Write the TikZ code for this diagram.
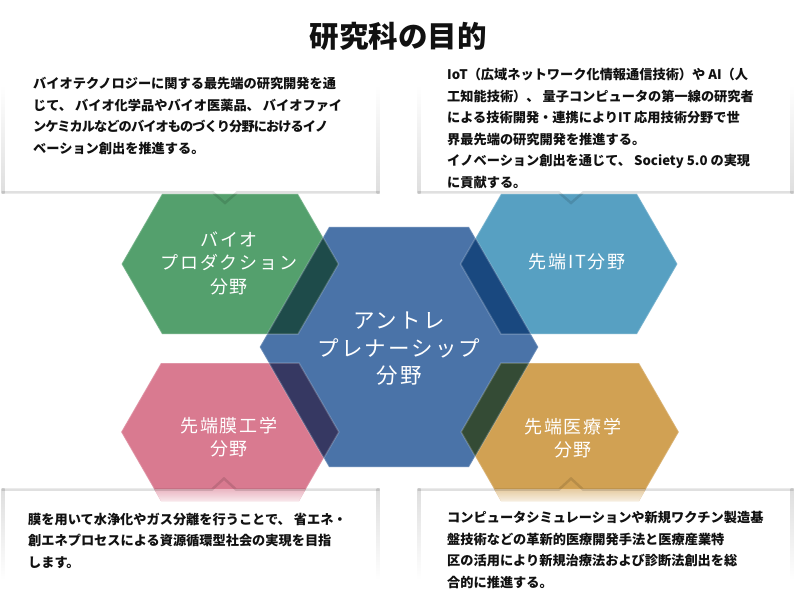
\documentclass[tikz,border=0pt]{standalone}
\usepackage{fontspec}
\newfontfamily\jp{Noto Sans CJK JP}
\newfontfamily\jplab{Noto Sans CJK JP}[LetterSpace=10]
\definecolor{cgreen}{HTML}{54A06D}
\definecolor{ccenter}{HTML}{4A73A8}
\definecolor{cit}{HTML}{57A0C2}
\definecolor{cpink}{HTML}{D97A90}
\definecolor{cgold}{HTML}{D1A153}
\definecolor{ogreen}{HTML}{1E4B4A}
\definecolor{opink}{HTML}{363862}
\definecolor{oit}{HTML}{19487F}
\definecolor{ogold}{HTML}{344B35}
\definecolor{bordgray}{HTML}{DEDEDE}
\definecolor{txt}{HTML}{111111}
\newcommand\hexpath[4]{({#1-#3-0.57735*#4},{#2}) -- ({#1-#3},{#2-#4}) -- ({#1+#3},{#2-#4}) -- ({#1+#3+0.57735*#4},{#2}) -- ({#1+#3},{#2+#4}) -- ({#1-#3},{#2+#4}) -- cycle}
\tikzset{
  bodytext/.style={anchor=west, inner sep=0pt, align=left, text=txt, font=\jp\bfseries\fontsize{13.2}{21.5}\selectfont},
  hexlabel/.style={inner sep=0pt, align=center, text=white, font=\jplab\fontsize{18}{23.5}\selectfont},
  bighexlabel/.style={hexlabel, font=\jplab\fontsize{21.5}{27.5}\selectfont},
  hexedge/.style={draw=white, draw opacity=0.2, line width=1.5pt},
  boxline/.style={draw=black, draw opacity=0.12, line width=2.5pt, line join=miter},
}
\begin{document}
\begin{tikzpicture}[x=1pt,y=-1pt]
\useasboundingbox[fill=white] (0,0) rectangle (795,596);

% hexagon fills
\fill[cgreen]  \hexpath{230}{264}{68}{70};
\fill[cit]     \hexpath{569}{264}{68}{70};
\fill[cpink]   \hexpath{230}{432}{69}{69};
\fill[cgold]   \hexpath{570}{432}{69}{69};
\fill[ccenter] \hexpath{399}{347}{70}{120};
% overlaps
\begin{scope}
  \clip \hexpath{399}{347}{70}{120};
  \fill[ogreen] \hexpath{230}{264}{68}{70};
  \fill[oit]    \hexpath{569}{264}{68}{70};
  \fill[opink]  \hexpath{230}{432}{69}{69};
  \fill[ogold]  \hexpath{570}{432}{69}{69};
\end{scope}
% edges
\path[hexedge] \hexpath{230}{264}{68}{70};
\path[hexedge] \hexpath{569}{264}{68}{70};
\path[hexedge] \hexpath{230}{432}{69}{69};
\path[hexedge] \hexpath{570}{432}{69}{69};
\path[hexedge] \hexpath{399}{347}{70}{120};

% faded bottoms inside lower boxes
\begin{scope}
  \clip \hexpath{230}{432}{69}{69};
  \shade[top color=cpink!55!white, bottom color=cpink!15!white] (100,489) rectangle (360,502);
\end{scope}
\begin{scope}
  \clip \hexpath{570}{432}{69}{69};
  \shade[top color=cgold!55!white, bottom color=cgold!15!white] (440,489) rectangle (700,502);
\end{scope}

% top-left box
\shade[top color=white, bottom color=bordgray] (1.5,85) rectangle (4.5,194);
\shade[top color=white, bottom color=bordgray] (376.5,85) rectangle (379.5,194);
\path[boxline] (1.5,192.5) -- (213,192.5) -- (225,203) -- (237,192.5) -- (379.5,192.5);
% top-right box
\shade[top color=white, bottom color=bordgray] (417.5,85) rectangle (420.5,194);
\shade[top color=white, bottom color=bordgray] (790.5,85) rectangle (793.5,194);
\path[boxline] (417.5,192.5) -- (559,192.5) -- (571,203) -- (583,192.5) -- (793.5,192.5);
% bottom-left box
\shade[top color=bordgray, bottom color=white] (1.5,488) rectangle (4.5,580);
\shade[top color=bordgray, bottom color=white] (376.5,488) rectangle (379.5,580);
\path[boxline] (1.5,489.5) -- (212,489.5) -- (224,478.5) -- (236,489.5) -- (379.5,489.5);
% bottom-right box
\shade[top color=bordgray, bottom color=white] (417.5,488) rectangle (420.5,580);
\shade[top color=bordgray, bottom color=white] (790.5,488) rectangle (793.5,580);
\path[boxline] (417.5,489.5) -- (559,489.5) -- (571,478.5) -- (583,489.5) -- (793.5,489.5);

% title
\node[inner sep=0pt, text=txt, font=\jp\bfseries\fontsize{29.5}{32}\selectfont] (title) at (398,36) {研究科の目的};

% body texts
\node[bodytext] (tl) at (33,116) {バイオテクノロジーに関する最先端の研究開発を通\\じて、 バイオ化学品やバイオ医薬品、 バイオファイ\\{\addfontfeature{LetterSpace=-7}ンケミカルなどのバイオものづくり分野におけるイノ}\\ベーション創出を推進する。};
\node[bodytext] (tr) at (447,128.5) {IoT（広域ネットワーク化情報通信技術）や AI（人\\工知能技術）、 量子コンピュータの第一線の研究者\\による技術開発・連携によりIT 応用技術分野で世\\界最先端の研究開発を推進する。\\イノベーション創出を通じて、 Society 5.0 の実現\\に貢献する。};
\node[bodytext] (bl) at (28,540.5) {膜を用いて水浄化やガス分離を行うことで、 省エネ・\\創エネプロセスによる資源循環型社会の実現を目指\\します。};
\node[bodytext] (br) at (447,550) {コンピュータシミュレーションや新規ワクチン製造基\\盤技術などの革新的医療開発手法と医療産業特\\区の活用により新規治療法および診断法創出を総\\合的に推進する。};

% hexagon labels
\node[hexlabel] (lgreen) at (229,263) {バイオ\\プロダクション\\分野};
\node[hexlabel] (lit) at (577,262) {先端IT分野};
\node[hexlabel] (lpink) at (229,437) {先端膜工学\\分野};
\node[hexlabel] (lgold) at (573,438) {先端医療学\\分野};
\node[bighexlabel] (lcenter) at (399,349) {アントレ\\プレナーシップ\\分野};
\end{tikzpicture}
\end{document}
